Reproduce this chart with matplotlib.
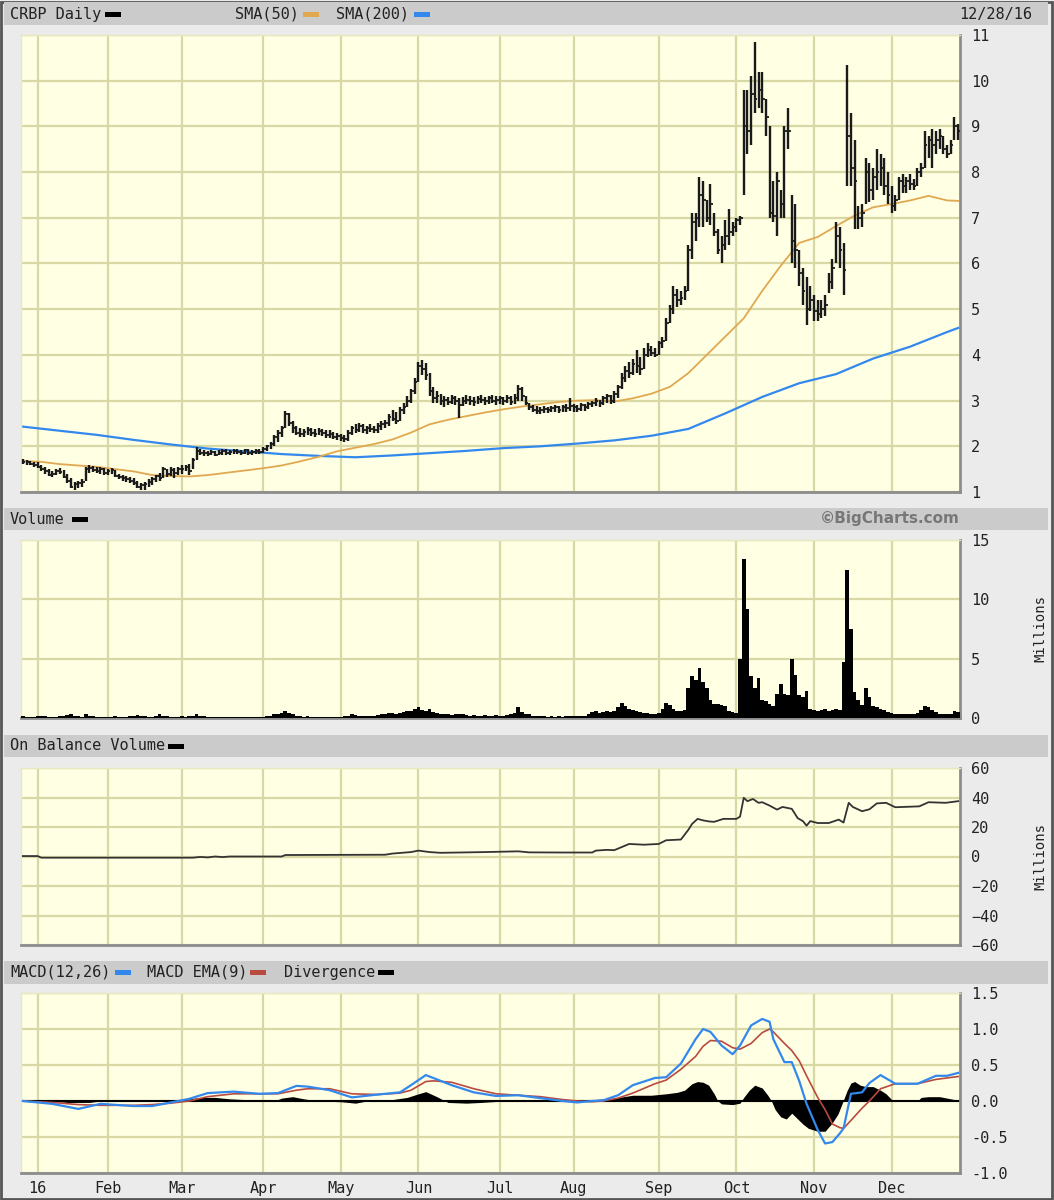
import numpy as np
import matplotlib.pyplot as plt
from matplotlib.patches import Rectangle

# ---- data (trading-day index 0 = 12/28/15, 253 = 12/28/16) ----
month_labels = ['16', 'Feb', 'Mar', 'Apr', 'May', 'Jun', 'Jul', 'Aug', 'Sep', 'Oct', 'Nov', 'Dec']
month_start = [4, 23, 43, 65, 86, 107, 129, 149, 172, 193, 214, 235]

high = [
    # Dec/Jan
    1.72, 1.70, 1.68, 1.66, 1.65, 1.60, 1.55, 1.50, 1.45, 1.50, 1.52, 1.48, 1.40, 1.30, 1.22, 1.25, 1.28, 1.55, 1.58, 1.56, 1.54, 1.55, 1.52,
    # Feb
    1.50, 1.52, 1.48, 1.40, 1.38, 1.35, 1.32, 1.30, 1.25, 1.20, 1.22, 1.28, 1.32, 1.38, 1.42, 1.55, 1.50, 1.55, 1.52, 1.55,
    # Mar
    1.58, 1.60, 1.62, 1.75, 1.98, 1.95, 1.92, 1.90, 1.92, 1.90, 1.92, 1.95, 1.93, 1.92, 1.95, 1.94, 1.92, 1.95, 1.93, 1.92, 1.95, 1.94,
    # Apr
    1.98, 2.02, 2.10, 2.25, 2.35, 2.45, 2.78, 2.72, 2.55, 2.45, 2.40, 2.38, 2.42, 2.40, 2.38, 2.40, 2.38, 2.36, 2.35, 2.32, 2.30,
    # May
    2.28, 2.25, 2.35, 2.45, 2.48, 2.50, 2.48, 2.45, 2.48, 2.45, 2.50, 2.55, 2.58, 2.70, 2.80, 2.75, 2.85, 2.95, 3.10, 3.25, 3.50,
    # Jun
    3.85, 3.88, 3.82, 3.60, 3.30, 3.20, 3.15, 3.10, 3.08, 3.12, 3.10, 3.05, 3.08, 3.12, 3.10, 3.08, 3.10, 3.12, 3.08, 3.10, 3.12, 3.10,
    # Jul
    3.10, 3.08, 3.12, 3.10, 3.15, 3.35, 3.30, 3.10, 2.95, 2.90, 2.88, 2.85, 2.88, 2.86, 2.88, 2.90, 2.88, 2.90, 2.92, 3.05,
    # Aug
    2.92, 2.90, 2.95, 2.92, 2.98, 3.00, 3.05, 3.02, 3.10, 3.15, 3.12, 3.20, 3.35, 3.60, 3.75, 3.85, 3.90, 4.10, 3.95, 4.15, 4.25, 4.20, 4.15,
    # Sep
    4.30, 4.40, 4.80, 5.10, 5.50, 5.45, 5.40, 5.50, 6.40, 7.10, 7.10, 7.90, 7.80, 7.40, 7.75, 7.10, 6.75, 6.60, 6.95, 7.20, 6.90,
    # Oct
    7.00, 7.05, 9.80, 9.80, 10.10, 10.85, 10.20, 10.20, 9.60, 9.00, 7.80, 8.00, 7.60, 9.00, 9.40, 7.50, 7.30, 6.30, 5.90, 5.70, 5.50,
    # Nov
    5.30, 5.20, 5.20, 5.30, 5.80, 6.10, 6.90, 6.80, 6.45, 10.35, 9.30, 8.70, 7.25, 7.30, 8.30, 8.20, 8.10, 8.50, 8.40, 8.30, 8.00,
    # Dec
    7.70, 7.50, 7.90, 7.95, 7.90, 7.95, 7.85, 8.10, 8.20, 8.90, 8.80, 8.95, 8.90, 8.95, 8.80, 8.60, 8.70, 9.20, 9.05,
]
low = [
    1.62, 1.60, 1.58, 1.55, 1.52, 1.45, 1.40, 1.35, 1.32, 1.38, 1.40, 1.30, 1.20, 1.08, 1.05, 1.08, 1.10, 1.25, 1.42, 1.44, 1.42, 1.40, 1.38,
    1.38, 1.40, 1.32, 1.28, 1.25, 1.22, 1.20, 1.15, 1.08, 1.05, 1.04, 1.10, 1.15, 1.22, 1.25, 1.30, 1.32, 1.35, 1.30, 1.38,
    1.40, 1.45, 1.38, 1.50, 1.70, 1.80, 1.78, 1.78, 1.80, 1.78, 1.80, 1.82, 1.82, 1.80, 1.84, 1.83, 1.82, 1.84, 1.82, 1.80, 1.84, 1.83,
    1.85, 1.90, 1.95, 2.00, 2.10, 2.20, 2.40, 2.45, 2.30, 2.25, 2.20, 2.20, 2.25, 2.22, 2.20, 2.24, 2.22, 2.18, 2.18, 2.15, 2.14,
    2.12, 2.10, 2.12, 2.25, 2.30, 2.32, 2.30, 2.28, 2.32, 2.30, 2.30, 2.35, 2.40, 2.45, 2.55, 2.48, 2.55, 2.70, 2.85, 2.95, 3.15,
    3.40, 3.55, 3.45, 3.10, 2.95, 2.95, 2.90, 2.85, 2.90, 2.92, 2.90, 2.62, 2.88, 2.92, 2.90, 2.88, 2.92, 2.94, 2.90, 2.92, 2.94, 2.90,
    2.92, 2.90, 2.94, 2.90, 2.92, 3.00, 3.00, 2.90, 2.80, 2.75, 2.70, 2.70, 2.72, 2.72, 2.74, 2.75, 2.72, 2.75, 2.76, 2.78,
    2.76, 2.75, 2.78, 2.78, 2.82, 2.85, 2.88, 2.86, 2.90, 2.95, 2.92, 2.95, 3.05, 3.25, 3.40, 3.50, 3.55, 3.60, 3.55, 3.70, 3.95, 3.98, 3.95,
    4.00, 4.15, 4.30, 4.70, 4.90, 5.05, 5.10, 5.20, 5.40, 6.10, 6.50, 6.80, 6.80, 6.90, 6.85, 6.60, 6.20, 6.00, 6.30, 6.40, 6.60,
    6.70, 6.85, 7.50, 8.40, 8.60, 9.30, 9.40, 9.30, 8.80, 7.00, 6.90, 6.60, 7.00, 7.00, 8.50, 6.00, 5.90, 5.50, 5.10, 4.65, 4.95,
    4.75, 4.75, 4.80, 4.85, 5.35, 5.45, 6.00, 5.90, 5.30, 7.70, 7.70, 6.75, 6.75, 6.80, 7.30, 7.35, 7.40, 7.60, 7.70, 7.50, 7.30,
    7.10, 7.15, 7.40, 7.55, 7.55, 7.60, 7.60, 7.70, 7.90, 8.10, 8.30, 8.10, 8.40, 8.50, 8.40, 8.30, 8.40, 8.70, 8.70,
]
close = [
    1.65, 1.66, 1.62, 1.60, 1.55, 1.50, 1.45, 1.38, 1.40, 1.45, 1.44, 1.33, 1.25, 1.12, 1.18, 1.20, 1.22, 1.50, 1.52, 1.48, 1.46, 1.50, 1.42,
    1.45, 1.48, 1.35, 1.32, 1.30, 1.28, 1.25, 1.20, 1.12, 1.15, 1.18, 1.22, 1.28, 1.35, 1.30, 1.50, 1.40, 1.48, 1.42, 1.50,
    1.50, 1.55, 1.45, 1.70, 1.90, 1.85, 1.86, 1.84, 1.88, 1.82, 1.86, 1.90, 1.86, 1.88, 1.90, 1.88, 1.86, 1.92, 1.86, 1.88, 1.90, 1.88,
    1.95, 2.00, 2.05, 2.20, 2.30, 2.40, 2.70, 2.50, 2.40, 2.30, 2.28, 2.32, 2.35, 2.30, 2.28, 2.34, 2.30, 2.25, 2.28, 2.20, 2.22,
    2.18, 2.15, 2.30, 2.40, 2.35, 2.45, 2.36, 2.40, 2.38, 2.35, 2.45, 2.48, 2.50, 2.65, 2.60, 2.55, 2.80, 2.85, 3.00, 3.20, 3.40,
    3.75, 3.70, 3.55, 3.20, 3.05, 3.10, 3.00, 3.02, 2.98, 3.05, 3.00, 2.90, 3.00, 3.02, 3.00, 2.98, 3.04, 3.02, 3.00, 3.05, 3.00, 3.02,
    3.05, 3.00, 3.06, 2.98, 3.05, 3.25, 3.10, 2.95, 2.85, 2.80, 2.78, 2.80, 2.82, 2.80, 2.84, 2.85, 2.80, 2.86, 2.84, 2.88,
    2.85, 2.82, 2.90, 2.86, 2.92, 2.95, 3.00, 2.95, 3.05, 3.10, 3.00, 3.15, 3.30, 3.50, 3.65, 3.60, 3.80, 3.75, 3.70, 4.00, 4.10, 4.05, 4.00,
    4.25, 4.30, 4.70, 5.00, 5.30, 5.20, 5.25, 5.40, 6.30, 6.90, 7.00, 7.50, 7.40, 7.00, 7.30, 6.70, 6.30, 6.40, 6.60, 6.70, 6.80,
    6.95, 7.00, 9.00, 8.90, 9.70, 9.60, 9.80, 9.60, 9.20, 7.10, 7.05, 7.80, 7.30, 8.90, 8.90, 6.50, 6.30, 5.80, 5.40, 5.00, 5.20,
    4.95, 4.90, 5.00, 5.10, 5.60, 5.90, 6.60, 6.30, 5.85, 8.80, 8.10, 7.80, 7.00, 7.10, 8.00, 7.60, 7.90, 8.00, 8.10, 7.70, 7.50,
    7.25, 7.40, 7.80, 7.70, 7.80, 7.75, 7.70, 8.00, 8.10, 8.60, 8.70, 8.60, 8.70, 8.80, 8.50, 8.40, 8.60, 9.00, 8.90,
]

sma50_idx = [0, 5, 10, 15, 20, 25, 30, 35, 40, 45, 50, 55, 60, 65, 70, 75, 80, 85, 90, 95, 100, 105, 110,
             115, 120, 125, 130, 135, 140, 145, 150, 155, 160, 165, 170, 175, 180, 185, 190, 195, 200,
             205, 210, 215, 220, 225, 230, 235, 240, 245, 250, 253]
sma50_val = [1.68, 1.66, 1.61, 1.58, 1.55, 1.50, 1.45, 1.37, 1.35, 1.34, 1.37, 1.42, 1.47, 1.52, 1.58, 1.67,
             1.77, 1.89, 1.97, 2.05, 2.15, 2.30, 2.48, 2.58, 2.66, 2.74, 2.81, 2.87, 2.92, 2.97, 3.00, 3.01,
             2.98, 3.05, 3.15, 3.30, 3.60, 4.00, 4.40, 4.80, 5.40, 5.95, 6.45, 6.58, 6.82, 7.05, 7.23, 7.30,
             7.38, 7.48, 7.38, 7.37]
sma200_idx = [0, 10, 20, 30, 40, 50, 60, 70, 80, 90, 100, 110, 120, 130, 140, 150, 160, 170, 180, 190,
              200, 210, 220, 230, 240, 250, 253]
sma200_val = [2.43, 2.34, 2.25, 2.14, 2.04, 1.95, 1.89, 1.83, 1.79, 1.76, 1.80, 1.85, 1.90, 1.96, 2.00,
              2.06, 2.13, 2.23, 2.38, 2.72, 3.08, 3.38, 3.58, 3.92, 4.18, 4.50, 4.59]

# volume, millions
volume = [
    0.15, 0.10, 0.12, 0.10, 0.15, 0.20, 0.15, 0.12, 0.10, 0.12, 0.15, 0.20, 0.25, 0.30, 0.20, 0.15, 0.12, 0.30, 0.20, 0.15, 0.12, 0.10, 0.12,
    0.10, 0.12, 0.15, 0.10, 0.10, 0.12, 0.15, 0.20, 0.25, 0.20, 0.15, 0.12, 0.10, 0.15, 0.30, 0.20, 0.15, 0.12, 0.10, 0.12,
    0.15, 0.12, 0.15, 0.20, 0.35, 0.20, 0.15, 0.12, 0.10, 0.10, 0.12, 0.10, 0.10, 0.12, 0.10, 0.10, 0.12, 0.10, 0.10, 0.12, 0.10, 0.10,
    0.12, 0.15, 0.20, 0.30, 0.35, 0.40, 0.60, 0.45, 0.30, 0.20, 0.15, 0.12, 0.15, 0.12, 0.10, 0.12, 0.10, 0.12, 0.10, 0.10, 0.12,
    0.12, 0.15, 0.20, 0.30, 0.25, 0.20, 0.15, 0.15, 0.20, 0.20, 0.25, 0.30, 0.35, 0.45, 0.40, 0.30, 0.45, 0.50, 0.55, 0.60, 0.80,
    0.90, 0.70, 0.60, 0.80, 0.50, 0.40, 0.35, 0.30, 0.30, 0.25, 0.30, 0.35, 0.30, 0.25, 0.20, 0.25, 0.20, 0.20, 0.25, 0.20, 0.20, 0.25,
    0.20, 0.20, 0.25, 0.30, 0.40, 0.90, 0.50, 0.30, 0.30, 0.20, 0.15, 0.15, 0.15, 0.12, 0.15, 0.12, 0.15, 0.12, 0.15, 0.20,
    0.15, 0.15, 0.20, 0.20, 0.30, 0.50, 0.60, 0.40, 0.50, 0.60, 0.50, 0.60, 0.90, 1.30, 1.00, 0.80, 0.70, 0.60, 0.50, 0.40, 0.40, 0.30, 0.30,
    0.40, 0.80, 1.30, 1.10, 0.80, 0.60, 0.60, 0.70, 2.50, 3.50, 3.20, 4.20, 3.00, 2.50, 1.50, 1.20, 1.20, 1.10, 1.00, 0.60, 0.50,
    0.40, 5.00, 13.4, 9.20, 3.50, 2.50, 3.40, 1.50, 1.40, 1.20, 1.00, 2.00, 2.90, 2.00, 1.90, 5.00, 3.60, 1.90, 1.80, 2.30, 0.80,
    0.70, 0.60, 0.70, 0.80, 0.60, 0.70, 0.80, 0.70, 4.70, 12.5, 7.50, 2.20, 1.50, 1.10, 2.50, 1.80, 1.00, 0.90, 0.80, 0.70, 0.50,
    0.40, 0.30, 0.30, 0.30, 0.30, 0.30, 0.30, 0.40, 0.70, 1.00, 0.90, 0.70, 0.50, 0.30, 0.30, 0.30, 0.30, 0.60, 0.50,
]

obv_idx = [0, 4, 5, 46, 48, 50, 52, 54, 56, 70, 71, 98, 100, 105, 107, 110, 113, 125, 134, 137, 146, 154,
           155, 158, 160, 164, 168, 172, 174, 178, 180, 181, 182.5, 184, 185.5, 187, 189.5, 193, 194, 195,
           196, 197.5, 199, 200, 202, 204, 205.5, 208, 209.6, 211, 212, 213, 215, 218, 220.7, 222, 223.4,
           224.5, 227, 229, 231, 233.5, 236, 242.5, 245, 249.6, 253]
obv_val = [0.3, 0.3, -0.8, -0.8, -0.3, -0.6, 0.0, -0.4, 0.0, 0.0, 1.0, 1.2, 2.0, 3.0, 4.0, 3.0, 2.5, 3.0,
           3.5, 2.8, 2.7, 2.7, 4.0, 4.5, 4.3, 8.5, 8.0, 8.5, 11.0, 11.5, 18, 22, 25.5, 24.5, 23.8, 23.5,
           25.5, 25.5, 27, 39.8, 37.5, 39, 36.4, 36.8, 34.5, 31.8, 33.6, 32.3, 26, 24, 20.9, 24, 22.7,
           22.7, 25, 23, 36.4, 33.6, 30.7, 32, 36, 36.4, 33.4, 34, 36.8, 36.4, 37.5]

macd_idx = [0, 8, 15, 21, 30, 35, 40, 45, 50, 57, 64, 69, 74, 77, 83, 89, 96, 102, 105, 109, 111, 116,
            122, 128, 134, 140, 146, 150, 154, 157, 161, 165, 171, 174, 178, 182, 184, 186, 189, 192, 194,
            197, 200, 202, 203, 206, 208, 210, 212, 215, 217, 219, 221, 222, 224, 227, 229, 232, 236, 242,
            247, 250, 253]
macd_val = [0.0, -0.04, -0.11, -0.04, -0.07, -0.07, -0.02, 0.03, 0.11, 0.13, 0.10, 0.11, 0.21, 0.20, 0.15,
            0.05, 0.09, 0.12, 0.22, 0.36, 0.32, 0.22, 0.12, 0.07, 0.08, 0.04, 0.0, -0.02, 0.0, 0.01, 0.08,
            0.22, 0.32, 0.33, 0.52, 0.86, 1.0, 0.96, 0.77, 0.65, 0.77, 1.05, 1.14, 1.10, 0.86, 0.54, 0.54,
            0.28, -0.04, -0.40, -0.59, -0.57, -0.45, -0.38, 0.10, 0.12, 0.25, 0.36, 0.24, 0.24, 0.35, 0.35, 0.39]
signal_val = [0.0, -0.02, -0.05, -0.06, -0.06, -0.05, -0.03, 0.0, 0.06, 0.10, 0.10, 0.10, 0.15, 0.17, 0.17,
              0.10, 0.09, 0.11, 0.15, 0.27, 0.28, 0.26, 0.17, 0.10, 0.08, 0.06, 0.02, 0.0, -0.01, 0.0, 0.04,
              0.11, 0.24, 0.29, 0.44, 0.62, 0.76, 0.84, 0.83, 0.74, 0.72, 0.80, 0.95, 1.00, 0.96, 0.80, 0.70,
              0.56, 0.35, 0.05, -0.12, -0.32, -0.37, -0.38, -0.27, -0.10, 0.0, 0.17, 0.24, 0.24, 0.30, 0.32, 0.34]

div_idx = [0, 5, 8, 12, 18, 21, 24, 30, 36, 40, 45, 48, 52, 56, 60, 64, 68, 70, 73, 76, 80, 86, 90, 93,
           100, 104, 107, 109, 112, 115, 120, 124, 130, 140, 150, 155, 160, 165, 170, 174, 177, 179, 181,
           182.5, 184, 185.5, 187, 188, 189, 192, 194, 195, 196.5, 198, 200, 201.5, 202.5, 203.5, 205,
           206.5, 208, 209.6, 211, 212.5, 215, 217, 219, 220.5, 221.5, 223, 224, 225, 226.5, 228, 230, 232,
           233.5, 235, 236, 242, 243, 245, 248, 250, 252, 253]
div_val = [0.02, 0.02, 0.0, -0.02, -0.02, 0.0, 0.02, 0.0, 0.0, 0.01, 0.03, 0.05, 0.05, 0.03, 0.02, 0.0,
           0.0, 0.04, 0.06, 0.03, 0.0, -0.01, -0.03, 0.0, 0.02, 0.05, 0.10, 0.13, 0.06, -0.02, -0.03, -0.02,
           0.0, 0.0, 0.0, 0.02, 0.04, 0.08, 0.08, 0.10, 0.12, 0.15, 0.24, 0.27, 0.26, 0.22, 0.10, 0.0,
           -0.04, -0.05, -0.03, 0.05, 0.15, 0.22, 0.18, 0.08, 0.0, -0.12, -0.22, -0.25, -0.17, -0.25, -0.32,
           -0.38, -0.42, -0.42, -0.30, -0.18, -0.05, 0.15, 0.25, 0.27, 0.22, 0.20, 0.20, 0.15, 0.10, 0.02,
           0.0, 0.0, 0.05, 0.06, 0.06, 0.04, 0.02, 0.02]

# ---- styling ----
W, H = 1054, 1200
BG = '#ebebeb'
BAR = '#cbcbcb'
PLOT = '#ffffe3'
GRID = '#d8d8a4'
MONO = 'DejaVu Sans Mono'
ORANGE = '#e0a850'
BLUE = '#3388ee'
RED = '#b84a40'

plt.rcParams['font.family'] = MONO

fig = plt.figure(figsize=(W / 100, H / 100), dpi=100)
fig.patch.set_facecolor(BG)


def fx(px):
    return px / W


def fy(py):
    return 1 - py / H


def header(top, bottom):
    fig.add_artist(Rectangle((fx(4), fy(bottom)), fx(1048) - fx(4), (bottom - top) / H,
                             transform=fig.transFigure, facecolor=BAR, edgecolor='none'))


def swatch(px, py, color):
    fig.add_artist(Rectangle((fx(px), fy(py + 3)), 16 / W, 5 / H,
                             transform=fig.transFigure, facecolor=color, edgecolor='none'))


def panel(top, bottom):
    ax = fig.add_axes([fx(21), fy(bottom), fx(960) - fx(21), (bottom - top) / H])
    ax.set_facecolor(PLOT)
    ax.set_xlim(-0.5, 253.5)
    ax.set_xticks(month_start)
    ax.set_xticklabels([])
    ax.yaxis.tick_right()
    ax.tick_params(length=0, labelsize=11, pad=8, colors='#222222')
    ax.grid(True, color=GRID, lw=1.6)
    ax.set_axisbelow(True)
    for s in ['top', 'left']:
        ax.spines[s].set_color('#e8e8c0')
        ax.spines[s].set_linewidth(1)
    for s in ['bottom', 'right']:
        ax.spines[s].set_color('#8c8c8c')
        ax.spines[s].set_linewidth(2)
    return ax


# outer frame
fig.add_artist(Rectangle((0.001, 0.001), 0.997, 0.997, transform=fig.transFigure,
                         facecolor='none', edgecolor='#555555', lw=2))

# headers
header(2, 25)
fig.text(fx(10), fy(14), 'CRBP Daily', fontsize=11, va='center', color='#222222')
swatch(105, 14, 'black')
fig.text(fx(235), fy(14), 'SMA(50)', fontsize=11, va='center', color='#222222')
swatch(303, 14, ORANGE)
fig.text(fx(336), fy(14), 'SMA(200)', fontsize=11, va='center', color='#222222')
swatch(414, 14, BLUE)
fig.text(fx(1032), fy(14), '12/28/16', fontsize=11, va='center', ha='right', color='#222222')

header(508, 530)
fig.text(fx(10), fy(519), 'Volume', fontsize=11, va='center', color='#222222')
swatch(72, 519, 'black')
fig.text(fx(960), fy(519), '©BigCharts.com', fontsize=11, va='center', ha='right',
         color='#777777', fontweight='bold', family='DejaVu Sans')

header(735, 757)
fig.text(fx(10), fy(746), 'On Balance Volume', fontsize=11, va='center', color='#222222')
swatch(168, 746, 'black')

header(961, 984)
fig.text(fx(10), fy(972), 'MACD(12,26)', fontsize=11, va='center', color='#222222')
swatch(115, 972, BLUE)
fig.text(fx(147), fy(972), 'MACD EMA(9)', fontsize=11, va='center', color='#222222')
swatch(250, 972, RED)
fig.text(fx(284), fy(972), 'Divergence', fontsize=11, va='center', color='#222222')
swatch(378, 972, 'black')

# ---- price ----
x = np.arange(len(close))
ax1 = panel(35, 492)
ax1.set_ylim(1, 11)
ax1.set_yticks(range(1, 12))
ax1.plot(sma200_idx, sma200_val, color=BLUE, lw=1.6, zorder=2)
ax1.plot(sma50_idx, sma50_val, color=ORANGE, lw=1.3, zorder=2)
ax1.vlines(x, low, high, color='#1a1a1a', lw=1.7, zorder=3)
ax1.hlines(close, x, x + 0.7, color='#1a1a1a', lw=1.3, zorder=3)

# ---- volume ----
ax2 = panel(540, 718)
ax2.set_ylim(0, 15)
ax2.set_yticks([0, 5, 10, 15])
ax2.bar(x, volume, width=1.0, color='black', zorder=3)
fig.text(fx(1040), fy(629), 'Millions', rotation=90, fontsize=10, va='center', ha='center', color='#222222')

# ---- OBV ----
ax3 = panel(768, 945)
ax3.set_ylim(-60, 60)
ax3.set_yticks(range(-60, 61, 20))
ax3.plot(obv_idx, obv_val, color='#333333', lw=1.3, zorder=3)
fig.text(fx(1040), fy(856), 'Millions', rotation=90, fontsize=10, va='center', ha='center', color='#222222')

# ---- MACD ----
ax4 = panel(993, 1173)
ax4.set_ylim(-1.0, 1.5)
ax4.set_yticks(np.arange(-1.0, 1.51, 0.5))
ax4.set_yticklabels([f'{v:.1f}' for v in np.arange(-1.0, 1.51, 0.5)])
ax4.fill_between(div_idx, 0, div_val, color='black', lw=0, zorder=2)
ax4.axhline(0, color='black', lw=1.5, zorder=2)
ax4.plot(macd_idx, signal_val, color=RED, lw=1.2, zorder=3)
ax4.plot(macd_idx, macd_val, color=BLUE, lw=1.6, zorder=4)
ax4.set_xticklabels(month_labels)
ax4.tick_params(axis='x', pad=6)

fig.savefig('out.png', dpi=100, facecolor=BG)
